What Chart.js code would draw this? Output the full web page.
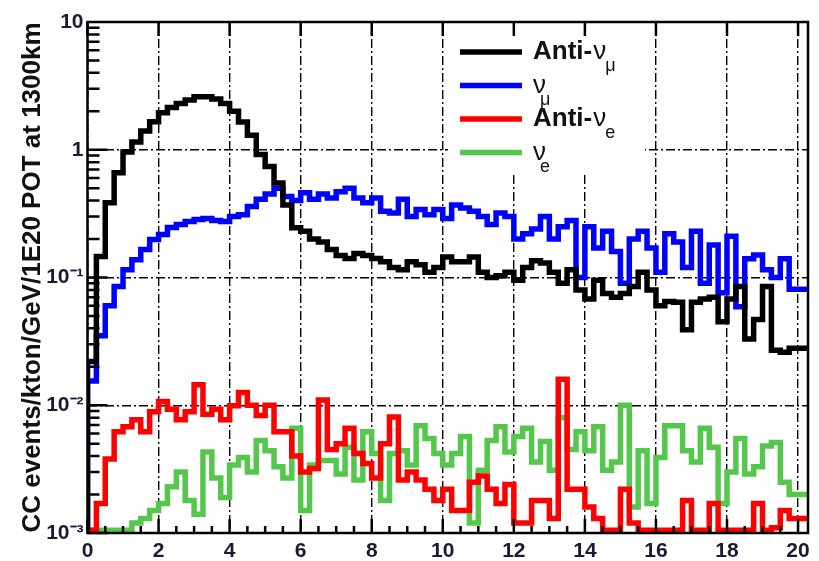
<!DOCTYPE html>
<html>
<head>
<meta charset="utf-8">
<script src="https://cdn.jsdelivr.net/npm/chart.js@4.4.1/dist/chart.umd.min.js"></script>
<style>
  html, body { margin: 0; padding: 0; background: #fff; }
</style>
</head>
<body>
<canvas id="c" width="819" height="561"></canvas>
<script>
// histogram contents, 0.25 GeV bins from 0 to 20.25
const binWidth = 0.25;

const antiNuMu = [
  0, 0.022, 0.146, 0.385, 0.66, 0.96, 1.15, 1.4, 1.66, 1.95,
  2.14, 2.3, 2.45, 2.6, 2.6, 2.5, 2.3, 2.0, 1.65, 1.3,
  0.92, 0.74, 0.55, 0.37, 0.245, 0.23, 0.2, 0.19, 0.166, 0.149,
  0.141, 0.154, 0.149, 0.141, 0.133, 0.12, 0.115, 0.133, 0.126, 0.11,
  0.12, 0.145, 0.133, 0.133, 0.145, 0.11, 0.1, 0.103, 0.11, 0.095,
  0.12, 0.135, 0.13, 0.11, 0.09, 0.115, 0.08, 0.068, 0.095, 0.075,
  0.07, 0.075, 0.085, 0.11, 0.08, 0.06, 0.065, 0.064, 0.039, 0.064,
  0.068, 0.07, 0.045, 0.068, 0.085, 0.033, 0.047, 0.085, 0.027, 0.026,
  0.028
];

const nuMu = [
  0, 0.0155, 0.035, 0.06, 0.085, 0.115, 0.138, 0.166, 0.198, 0.217,
  0.246, 0.26, 0.275, 0.284, 0.29, 0.28, 0.275, 0.3, 0.31, 0.36,
  0.41, 0.45, 0.5, 0.43, 0.4, 0.46, 0.41, 0.45, 0.42, 0.47,
  0.5, 0.42, 0.385, 0.42, 0.33, 0.32, 0.41, 0.3, 0.34, 0.31,
  0.34, 0.29, 0.37, 0.35, 0.33, 0.3, 0.26, 0.32, 0.3, 0.2,
  0.22, 0.24, 0.3, 0.2, 0.25, 0.28, 0.1, 0.25, 0.17, 0.23,
  0.16, 0.09, 0.2, 0.23, 0.17, 0.11, 0.22, 0.19, 0.12, 0.23,
  0.09, 0.18, 0.076, 0.21, 0.059, 0.14, 0.15, 0.115, 0.1, 0.14,
  0.081
];

const antiNuE = [
  0, 0, 0.0017, 0.0038, 0.0062, 0.0068, 0.0077, 0.0062, 0.0089, 0.0107,
  0.0093, 0.0077, 0.0089, 0.0145, 0.0085, 0.0093, 0.0077, 0.0099, 0.0126, 0.01,
  0.0083, 0.01, 0.0062, 0.0062, 0.004, 0.003, 0.0032, 0.011, 0.0045, 0.005,
  0.0066, 0.0042, 0.0035, 0.0027, 0.005, 0.0081, 0.0026, 0.003, 0.0026, 0.0022,
  0.0018, 0.0022, 0.0015, 0.0015, 0.0025, 0.0028, 0.0022, 0.0017, 0.0024, 0.0012,
  0.0012, 0.0018, 0.0018, 0.0013, 0.016, 0.0022, 0.0022, 0.0016, 0.0013, 0,
  0, 0.0022, 0.0012, 0, 0, 0, 0, 0, 0.0018, 0,
  0, 0.0017, 0, 0, 0, 0, 0.0017, 0, 0.0011, 0.0015,
  0.0013
];

const nuE = [
  0, 0, 0, 0, 0, 0, 0.0012, 0.0013, 0.0015, 0.0017,
  0.0023, 0.003, 0.0018, 0.0014, 0.0043, 0.0027, 0.0019, 0.0034, 0.0039, 0.003,
  0.0053, 0.0044, 0.0033, 0.0027, 0.0066, 0.0015, 0.0034, 0.0037, 0.0037, 0.0029,
  0.0047, 0.0026, 0.0062, 0.0042, 0.0018, 0.0042, 0.0044, 0.0034, 0.0069, 0.0055,
  0.0042, 0.0034, 0.0042, 0.0057, 0.0012, 0.0031, 0.0053, 0.0068, 0.0043, 0.0057,
  0.0066, 0.0036, 0.0052, 0.0031, 0.008, 0.0045, 0.0062, 0.0044, 0.0068, 0.0031,
  0.0036, 0.01, 0.0016, 0.0044, 0.0017, 0.0039, 0.0069, 0.0069, 0.0044, 0.0036,
  0.0066, 0.0047, 0.0017, 0.003, 0.0055, 0.0029, 0.0033, 0.0048, 0.0051, 0.0025,
  0.002
];

const seriesColors = ['#000000', '#0000ff', '#ff0000', '#55c74c'];
const legendPrefix = ['Anti-', '', 'Anti-', ''];
const legendSymbol = ['\u03bd', '\u03bd', '\u03bd', '\u03bd'];
const legendSub = ['\u03bc', '\u03bc', 'e', 'e'];

const xTickValues = [0, 2, 4, 6, 8, 10, 12, 14, 16, 18, 20];
const yTickValues = [0.001, 0.01, 0.1, 1, 10];
const yTickLabels = ['10\u207b\u00b3', '10\u207b\u00b2', '10\u207b\u00b9', '1', '10'];
const yTitle = 'CC events/kton/GeV/1E20 POT at 1300km';
const yMin = 0.001;
const yFloor = 0.00105;

const labelFont = { family: 'Liberation Sans', size: 21, weight: 'bold' };
const labelColor = '#1a1a36';

// empty bins sit on the bottom of the frame, like ROOT does on a log axis
function histPoints(vals) {
    const pts = vals.map((v, i) => ({ x: i * binWidth, y: v > 0 ? v : yFloor }));
    pts.push({ x: vals.length * binWidth, y: pts[pts.length - 1].y });
    return pts;
}

// ROOT style frame, tick marks and legend
const rootFrame = {
    id: 'rootFrame',
    afterDatasetsDraw(chart) {
        const { ctx, chartArea: a, scales: { x, y } } = chart;
        ctx.save();

        // legend box
        ctx.fillStyle = '#fff';
        ctx.fillRect(448, 35, 197, 138);
        chart.data.datasets.forEach((ds, i) => {
            const ly = 52 + i * 33.5;
            ctx.strokeStyle = ds.borderColor;
            ctx.lineWidth = 5.5;
            ctx.beginPath(); ctx.moveTo(460, ly); ctx.lineTo(522, ly); ctx.stroke();
            ctx.fillStyle = '#111';
            ctx.textBaseline = 'alphabetic';
            ctx.textAlign = 'left';
            let tx = 533;
            if (legendPrefix[i]) {
                ctx.font = 'bold 26px "Liberation Sans"';
                ctx.fillText(legendPrefix[i], tx, ly + 7);
                tx += ctx.measureText(legendPrefix[i]).width + 1;
            }
            ctx.font = '26px "Liberation Sans"';
            ctx.fillText(legendSymbol[i], tx, ly + 7);
            const nw = ctx.measureText(legendSymbol[i]).width;
            ctx.font = '18px "Liberation Sans"';
            const sx = legendPrefix[i] ? tx + nw - 1 : tx + 7;
            ctx.fillText(legendSub[i], sx, ly + 19);
        });

        // tick marks, drawn inside the frame
        ctx.strokeStyle = '#000';
        ctx.lineWidth = 2.5;
        ctx.beginPath();
        for (let v = 0; v <= 20.001; v += 0.5) {
            const px = x.getPixelForValue(v);
            const major = Math.abs(v / 2 - Math.round(v / 2)) < 1e-6;
            const len = major ? 14 : 7;
            ctx.moveTo(px, a.bottom); ctx.lineTo(px, a.bottom - len);
            if (major) { ctx.moveTo(px, a.top); ctx.lineTo(px, a.top + len); }
        }
        for (let d = -3; d < 1; d++) {
            for (let m = 1; m <= 9; m++) {
                const py = y.getPixelForValue(m * Math.pow(10, d));
                const len = m === 1 ? 20 : 12;
                ctx.moveTo(a.left, py); ctx.lineTo(a.left + len, py);
            }
        }
        ctx.stroke();

        // frame
        ctx.lineWidth = 2.5;
        ctx.strokeRect(a.left, a.top, a.right - a.left, a.bottom - a.top);
        ctx.restore();
    }
};

const datasets = [antiNuMu, nuMu, antiNuE, nuE].map((vals, i) => ({
    label: legendPrefix[i] + legendSymbol[i] + legendSub[i],
    data: histPoints(vals),
    borderColor: seriesColors[i],
    backgroundColor: seriesColors[i],
    borderWidth: 5.5,
    borderJoinStyle: 'miter',
    stepped: 'after',
    pointRadius: 0,
    fill: false,
    clip: 0
}));

new Chart(document.getElementById('c'), {
    type: 'line',
    data: { datasets },
    options: {
        responsive: false,
        animation: false,
        layout: { padding: { top: 22, right: 11, left: 0, bottom: 0 } },
        plugins: { legend: { display: false }, tooltip: { enabled: false } },
        scales: {
            x: {
                type: 'linear',
                min: 0,
                max: 20.28,
                afterFit: s => { s.height = 28; },
                afterBuildTicks: s => { s.ticks = xTickValues.map(v => ({ value: v })); },
                grid: { color: '#000', lineWidth: 1.4, drawTicks: false },
                border: { display: false, dash: [9, 3, 2, 3] },
                ticks: { font: labelFont, color: labelColor, padding: 6, maxRotation: 0 }
            },
            y: {
                type: 'logarithmic',
                min: yMin,
                max: 10,
                afterFit: s => { s.width = 87.5; },
                afterBuildTicks: s => { s.ticks = yTickValues.map(v => ({ value: v })); },
                grid: { color: '#000', lineWidth: 1.4, drawTicks: false },
                border: { display: false, dash: [9, 3, 2, 3] },
                ticks: {
                    font: labelFont, color: labelColor, padding: 4,
                    callback: (v, i) => yTickLabels[i]
                },
                title: {
                    display: true,
                    text: yTitle,
                    color: '#111',
                    font: { family: 'Liberation Sans', size: 26, weight: 'bold' },
                    padding: { top: 17, bottom: 0 }
                }
            }
        }
    },
    plugins: [rootFrame]
});
</script>
</body>
</html>
